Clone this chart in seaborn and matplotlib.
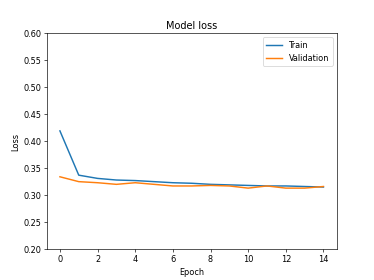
import pandas as pd
import matplotlib.pyplot as plt
import seaborn as sns

# valores
epochs = list(range(15))
train_loss = [0.419, 0.337, 0.331, 0.328, 0.327, 0.325, 0.323, 0.322, 0.320,
              0.319, 0.318, 0.317, 0.317, 0.316, 0.315]
val_loss = [0.334, 0.325, 0.323, 0.320, 0.323, 0.320, 0.317, 0.317, 0.318,
            0.317, 0.313, 0.317, 0.313, 0.313, 0.316]

df = pd.DataFrame({
    'Epoch': epochs * 2,
    'Loss': train_loss + val_loss,
    'Serie': ['Train'] * 15 + ['Validation'] * 15,
})

fig, ax = plt.subplots(figsize=(6.4, 4.8), dpi=58.44)
sns.lineplot(data=df, x='Epoch', y='Loss', hue='Serie',
             palette=['#1f77b4', '#ff7f0e'], linewidth=1.8, ax=ax)
ax.set_title('Model loss')
ax.set_xlabel('Epoch')
ax.set_ylabel('Loss')
ax.set_ylim(0.2, 0.6)
ax.set_xticks(range(0, 15, 2))
ax.legend(title=None, loc='upper right')
plt.savefig('out.png', dpi=58.44)
